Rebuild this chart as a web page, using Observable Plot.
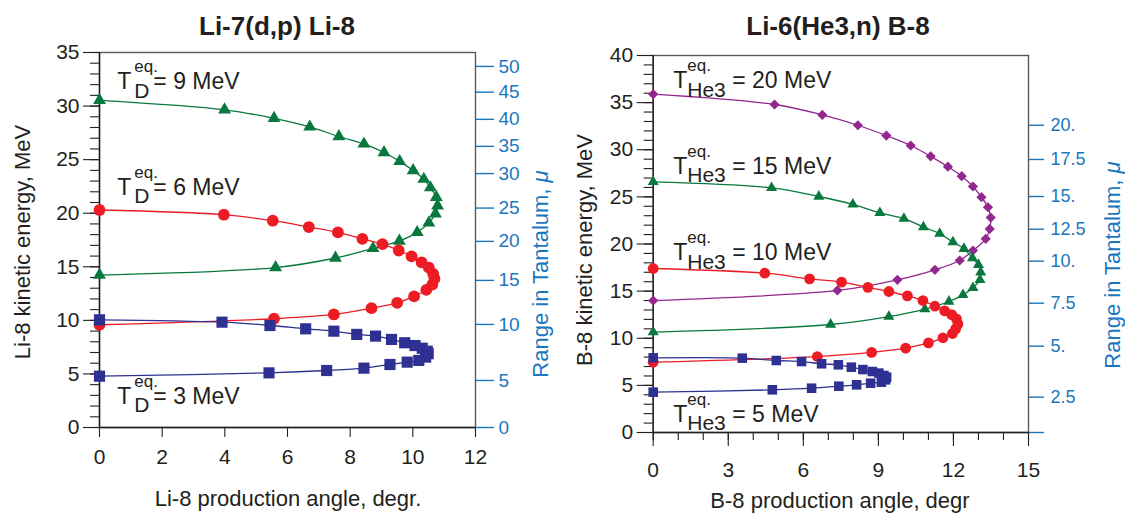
<!DOCTYPE html>
<html><head><meta charset="utf-8">
<script src="https://cdn.jsdelivr.net/npm/d3@7"></script>
<script src="https://cdn.jsdelivr.net/npm/@observablehq/plot@0.6"></script>
<style>
html,body{margin:0;padding:0;background:#fff;}
#wrap{position:relative;width:1125px;height:517px;overflow:hidden;}
.panel{position:absolute;top:0;}
#overlay{position:absolute;left:0;top:0;pointer-events:none;}
</style></head><body><div id="wrap"></div>
<script>
// ---------- Li-7(d,p) Li-8 ----------
const li9Angle  = [0, 3.99, 5.57, 6.71, 7.64, 8.44, 9.08, 9.58, 10.01, 10.35, 10.56, 10.75, 10.79, 10.72, 10.51, 10.14, 9.57, 8.73, 7.53, 5.62, 0];
const li9Energy = [30.53, 29.65, 28.86, 28.06, 27.16, 26.47, 25.67, 24.84, 23.98, 23.18, 22.39, 21.49, 20.70, 19.95, 19.10, 18.21, 17.41, 16.72, 15.82, 14.93, 14.23];
const li6Angle  = [0, 3.97, 5.53, 6.68, 7.61, 8.39, 9.03, 9.55, 9.96, 10.28, 10.51, 10.65, 10.69, 10.62, 10.43, 10.04, 9.50, 8.68, 7.48, 5.57, 0];
const li6Energy = [20.30, 19.86, 19.30, 18.71, 18.21, 17.61, 17.11, 16.52, 15.97, 15.42, 14.93, 14.33, 13.88, 13.33, 12.84, 12.24, 11.64, 11.14, 10.55, 10.15, 9.59];
const li3Angle  = [0, 3.91, 5.44, 6.58, 7.48, 8.21, 8.81, 9.32, 9.74, 10.07, 10.30, 10.46, 10.49, 10.41, 10.19, 9.82, 9.27, 8.44, 7.25, 5.41, 0];
const li3Energy = [10.05, 9.83, 9.52, 9.21, 8.99, 8.69, 8.53, 8.22, 7.91, 7.65, 7.40, 7.12, 6.89, 6.57, 6.26, 6.10, 5.88, 5.54, 5.32, 5.10, 4.79];
const liRangeLabels   = ["0", "5", "10", "15", "20", "25", "30", "35", "40", "45", "50"];
const liRangeAtEnergy = [0, 4.39, 9.62, 13.73, 17.37, 20.48, 23.7, 26.24, 28.76, 31.3, 33.7];
const liNoteX = [0.57, 0.57, 0.57];
const liNoteY = [31.56, 21.73, 2.24];
const liNoteText = ["= 9 MeV", "= 6 MeV", "= 3 MeV"];

// ---------- Li-6(He3,n) B-8 ----------
const b20Angle  = [0, 4.85, 6.76, 8.18, 9.32, 10.29, 11.09, 11.78, 12.33, 12.78, 13.12, 13.38, 13.49, 13.45, 13.29, 12.78, 12.25, 11.26, 9.76, 7.36, 0];
const b20Energy = [35.9, 34.8, 33.7, 32.6, 31.5, 30.45, 29.3, 28.2, 27.2, 26.1, 24.97, 23.9, 22.8, 21.6, 20.55, 19.3, 18.25, 17.26, 16.2, 15.07, 14.0];
const b15Angle  = [0, 4.73, 6.62, 7.98, 9.06, 10.02, 10.8, 11.45, 11.98, 12.42, 12.76, 13.0, 13.09, 13.06, 12.78, 12.38, 11.82, 10.86, 9.42, 7.09, 0];
const b15Energy = [26.6, 25.96, 25.04, 24.2, 23.3, 22.7, 21.8, 21.1, 20.2, 19.5, 18.5, 17.8, 17.0, 16.2, 15.35, 14.6, 13.9, 13.1, 12.3, 11.46, 10.65];
const b10Angle  = [0, 4.46, 6.25, 7.53, 8.58, 9.42, 10.16, 10.78, 11.26, 11.65, 11.93, 12.12, 12.18, 12.09, 11.96, 11.58, 11.0, 10.09, 8.73, 6.56, 0];
const b10Energy = [17.4, 16.9, 16.3, 15.95, 15.4, 14.96, 14.5, 14.0, 13.4, 12.9, 12.5, 12.06, 11.5, 11.0, 10.5, 10.05, 9.5, 8.95, 8.5, 8.06, 7.46];
const b5Angle   = [0, 3.56, 4.92, 5.93, 6.73, 7.4, 7.92, 8.38, 8.76, 9.02, 9.22, 9.33, 9.29, 9.12, 8.69, 8.13, 7.42, 6.33, 4.76, 0];
const b5Energy  = [7.92, 7.89, 7.64, 7.53, 7.29, 7.18, 6.93, 6.68, 6.47, 6.3, 6.05, 5.87, 5.59, 5.34, 5.23, 5.06, 4.91, 4.7, 4.53, 4.28];
const bRangeLabels   = ["", "2.5", "5.", "7.5", "10.", "12.5", "15.", "17.5", "20."];
const bRangeAtEnergy = [0, 3.75, 9.16, 13.72, 18.18, 21.57, 25.04, 28.97, 32.6];
const bNoteX = [0.8, 0.8, 0.8, 0.8];
const bNoteY = [36.5, 27.45, 18.3, 1.15];
const bNoteText = ["= 20 MeV", "= 15 MeV", "= 10 MeV", "= 5 MeV"];

// ---------- styling ----------
const FONT = "'Liberation Sans', Arial, Helvetica, sans-serif";
const INK = "#231f20";
const FRAME = "#58595b";
const AXIS_BLUE = "#1a77bd";
const GREEN = "#08783f", RED = "#ed1c24", NAVY = "#2e3192", PURPLE = "#92278f";

const rows = (xs, ys) => xs.map((a, i) => ({a, e: ys[i]}));
const notes = (xs, ys, ts) => xs.map((x, i) => ({x, y: ys[i], t: ts[i]}));

function series(data, color, symbol, r) {
  return [
    Plot.line(data, {x: "a", y: "e", curve: "catmull-rom", stroke: color, strokeWidth: 1.3}),
    Plot.dot(data, {x: "a", y: "e", symbol, r, fill: color, stroke: "none"})
  ];
}

function noteMarks(data, sub, subDx, valDx) {
  return [
    Plot.text(data, {x: "x", y: "y", text: () => "T", textAnchor: "start", lineAnchor: "bottom", fontSize: 23, fill: INK}),
    Plot.text(data, {x: "x", y: "y", text: () => "eq.", textAnchor: "start", lineAnchor: "bottom", fontSize: 17, dx: subDx, dy: -17, fill: INK}),
    Plot.text(data, {x: "x", y: "y", text: () => sub, textAnchor: "start", lineAnchor: "bottom", fontSize: 21, dx: subDx, dy: 8.5, fill: INK}),
    Plot.text(data, {x: "x", y: "y", text: "t", textAnchor: "start", lineAnchor: "bottom", fontSize: 23, dx: valDx, fill: INK})
  ];
}

const liMap = new Map(liRangeAtEnergy.map((e, i) => [e, liRangeLabels[i]]));
const bMap = new Map(bRangeAtEnergy.map((e, i) => [e, bRangeLabels[i]]));

const leftPlot = Plot.plot({
  width: 562, height: 517,
  marginLeft: 99, marginRight: 87, marginTop: 52, marginBottom: 90,
  x: {domain: [0, 12], label: null},
  y: {domain: [0, 35], label: null},
  style: {fontFamily: FONT, fontSize: "21px", color: INK, background: "none", overflow: "visible"},
  marks: [
    Plot.frame({stroke: FRAME, strokeWidth: 1.4}),
    Plot.axisY(d3.range(0, 36, 1), {tickSize: 9, tickFormat: () => "", label: null, strokeWidth: 1.1}),
    Plot.axisY(d3.range(0, 36, 5), {tickSize: 16, tickPadding: 4, label: null, strokeWidth: 1.1, fontSize: 21}),
    Plot.axisX(d3.range(0, 13, 2), {tickSize: 10, tickPadding: 12, label: null, strokeWidth: 1.1, fontSize: 21}),
    Plot.axisY(liRangeAtEnergy, {anchor: "right", tickSize: 18, tickPadding: 5, tickFormat: d => liMap.get(d), label: null, color: AXIS_BLUE, strokeWidth: 1.4, fontSize: 19}),
    Plot.ruleX([0], {stroke: INK, strokeWidth: 1.4}),
    Plot.ruleY([0], {stroke: INK, strokeWidth: 1.4}),
    ...series(rows(li9Angle, li9Energy), GREEN, "triangle", 4.8),
    ...series(rows(li6Angle, li6Energy), RED, "circle", 5.9),
    ...series(rows(li3Angle, li3Energy), NAVY, "square", 6.3),
    ...noteMarks(notes(liNoteX, liNoteY, liNoteText), "D", 17, 36)
  ]
});

const rightPlot = Plot.plot({
  width: 563, height: 517,
  marginLeft: 90.7, marginRight: 97, marginTop: 55, marginBottom: 85,
  x: {domain: [0, 15], label: null},
  y: {domain: [0, 40], label: null},
  style: {fontFamily: FONT, fontSize: "21px", color: INK, background: "none", overflow: "visible"},
  marks: [
    Plot.frame({stroke: FRAME, strokeWidth: 1.4}),
    Plot.axisY(d3.range(0, 41, 1), {tickSize: 9, tickFormat: () => "", label: null, strokeWidth: 1.1}),
    Plot.axisY(d3.range(0, 41, 5), {tickSize: 16, tickPadding: 4, label: null, strokeWidth: 1.1, fontSize: 21}),
    Plot.axisX(d3.range(0, 16, 1), {tickSize: 8, tickFormat: () => "", label: null, strokeWidth: 1.1}),
    Plot.axisX(d3.range(0, 16, 3), {tickSize: 14, tickPadding: 16, label: null, strokeWidth: 1.1, fontSize: 21}),
    Plot.axisY(bRangeAtEnergy, {anchor: "right", tickSize: 15, tickPadding: 7, tickFormat: d => bMap.get(d), label: null, color: AXIS_BLUE, strokeWidth: 1.4, fontSize: 18}),
    Plot.ruleX([0], {stroke: INK, strokeWidth: 1.4}),
    Plot.ruleY([0], {stroke: INK, strokeWidth: 1.4}),
    ...series(rows(b20Angle, b20Energy), PURPLE, "diamond2", 4.6),
    ...series(rows(b15Angle, b15Energy), GREEN, "triangle", 4.1),
    ...series(rows(b10Angle, b10Energy), RED, "circle", 5.4),
    ...series(rows(b5Angle, b5Energy), NAVY, "square", 5.4),
    ...noteMarks(notes(bNoteX, bNoteY, bNoteText), "He3", 14, 59)
  ]
});

const wrap = document.getElementById("wrap");
const pl = document.createElement("div"); pl.className = "panel"; pl.style.left = "0px"; pl.appendChild(leftPlot); wrap.appendChild(pl);
const pr = document.createElement("div"); pr.className = "panel"; pr.style.left = "562px"; pr.appendChild(rightPlot); wrap.appendChild(pr);

// ---------- titles and axis titles ----------
const ov = d3.select(wrap).append("svg").attr("id", "overlay").attr("width", 1125).attr("height", 517)
  .attr("font-family", FONT);
function label(x, y, parts, {size = 22, weight = "normal", fill = INK, rotate = 0} = {}) {
  const t = ov.append("text")
    .attr("transform", `translate(${x},${y}) rotate(${rotate})`)
    .attr("text-anchor", "middle").attr("font-size", size)
    .attr("font-weight", weight).attr("fill", fill);
  for (const p of parts) {
    const s = t.append("tspan").text(p.text);
    if (p.italic) s.attr("font-style", "italic");
  }
}
label(277, 35, [{text: "Li-7(d,p) Li-8"}], {size: 26, weight: "bold"});
label(838, 35, [{text: "Li-6(He3,n) B-8"}], {size: 26, weight: "bold"});
label(30, 242, [{text: "Li-8 kinetic energy, MeV"}], {rotate: -90});
label(592, 250, [{text: "B-8 kinetic energy, MeV"}], {rotate: -90});
label(548, 274, [{text: "Range in Tantalum, "}, {text: "\u03bc", italic: true}], {rotate: -90, fill: AXIS_BLUE});
label(1120, 265, [{text: "Range in Tantalum, "}, {text: "\u03bc", italic: true}], {rotate: -90, fill: AXIS_BLUE});
label(288, 506, [{text: "Li-8 production angle, degr."}]);
label(840, 508, [{text: "B-8 production angle, degr"}]);
</script></body></html>
